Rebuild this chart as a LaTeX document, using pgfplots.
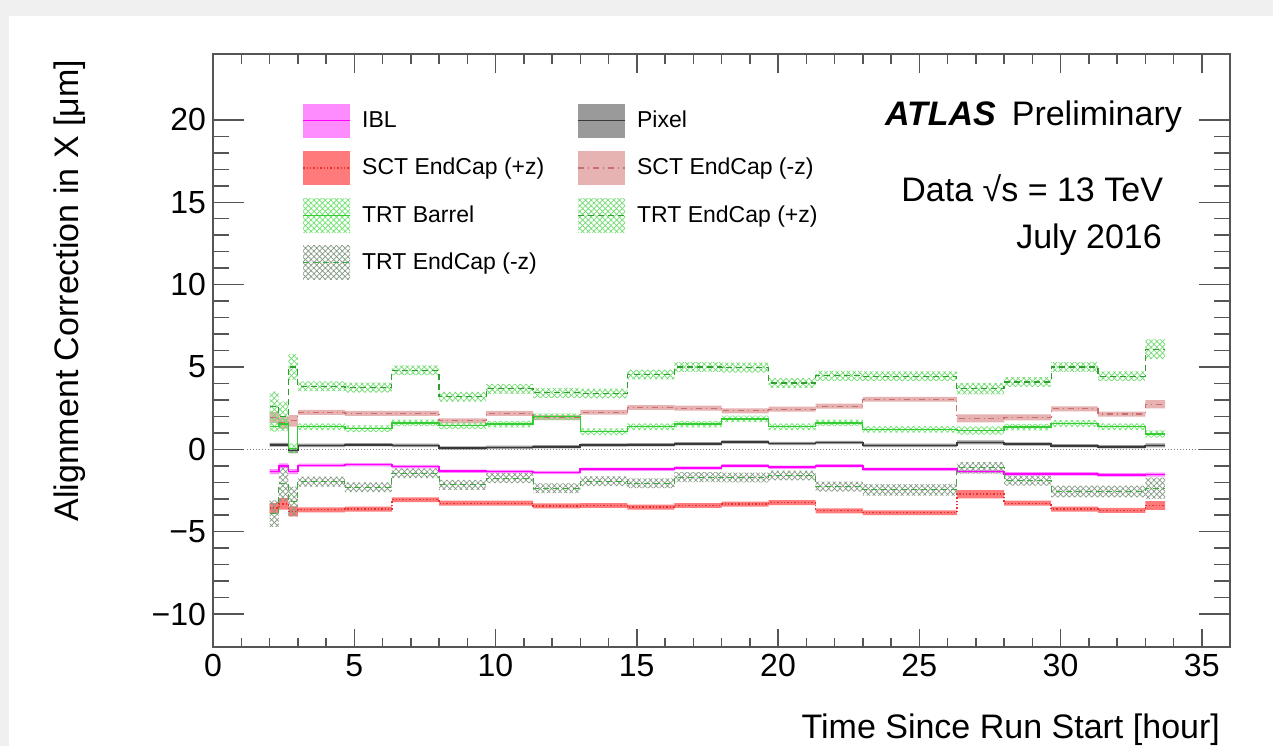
\documentclass[border=0pt]{standalone}
\usepackage{fontspec}
\setmainfont{Liberation Sans}
\usepackage{pgfplots}
\pgfplotsset{compat=1.18}
\usepackage{pgfplotstable}
\usepgfplotslibrary{fillbetween}
\usetikzlibrary{patterns,patterns.meta}

\pgfdeclarelayer{bg}
\pgfplotsset{
  layers/withbg/.define layer set={bg,axis background,axis grid,axis ticks,axis lines,axis tick labels,pre main,main,axis descriptions,axis foreground}{},
}

\definecolor{bggray}{HTML}{F0F0F0}
\definecolor{iblband}{HTML}{FF8CFF}
\definecolor{iblline}{HTML}{FF00FF}
\definecolor{pixband}{HTML}{9A9A9A}
\definecolor{pixline}{HTML}{3A3A3A}
\definecolor{scapband}{HTML}{FF7B7B}
\definecolor{scapline}{HTML}{E83030}
\definecolor{scamband}{HTML}{E6B2B2}
\definecolor{scamline}{HTML}{C87070}
\definecolor{trtbhatch}{HTML}{6AE46A}
\definecolor{trtbline}{HTML}{33CC33}
\definecolor{trtphatch}{HTML}{70DC70}
\definecolor{trtpline}{HTML}{2E9E2E}
\definecolor{trtmhatch}{HTML}{839A83}
\definecolor{trtmline}{HTML}{3DAA3D}
\definecolor{framecol}{HTML}{555555}

% x = bin start [hour], c = central value, e = half width of band
\pgfplotstableread{
x c e
2.00 -1.35 0.15
2.33 -1.00 0.15
2.67 -1.35 0.15
3.00 -0.97 0.10
4.67 -0.93 0.10
6.33 -1.05 0.10
8.00 -1.33 0.10
9.67 -1.35 0.10
11.33 -1.41 0.10
13.00 -1.21 0.10
14.67 -1.21 0.10
16.33 -1.13 0.10
18.00 -1.00 0.10
19.67 -1.09 0.10
21.33 -1.00 0.10
23.00 -1.21 0.10
26.33 -1.35 0.10
28.00 -1.49 0.10
29.67 -1.49 0.10
31.33 -1.55 0.10
33.00 -1.53 0.12
33.70 -1.53 0.12
}\tblIBL

\pgfplotstableread{
x c e
2.00 0.28 0.12
2.33 0.28 0.12
2.67 -0.08 0.15
3.00 0.24 0.10
4.67 0.28 0.10
6.33 0.24 0.10
8.00 0.08 0.10
9.67 0.12 0.10
11.33 0.16 0.10
13.00 0.26 0.10
14.67 0.28 0.10
16.33 0.34 0.10
18.00 0.44 0.10
19.67 0.36 0.10
21.33 0.42 0.10
23.00 0.24 0.10
26.33 0.42 0.12
28.00 0.32 0.10
29.67 0.22 0.10
31.33 0.16 0.10
33.00 0.24 0.12
33.70 0.24 0.12
}\tblPix

\pgfplotstableread{
x c e
2.00 -3.57 0.30
2.33 -3.31 0.35
2.67 -3.77 0.30
3.00 -3.67 0.15
4.67 -3.63 0.15
6.33 -3.06 0.15
8.00 -3.27 0.15
9.67 -3.27 0.15
11.33 -3.43 0.15
13.00 -3.41 0.15
14.67 -3.51 0.15
16.33 -3.41 0.15
18.00 -3.33 0.15
19.67 -3.23 0.15
21.33 -3.73 0.15
23.00 -3.85 0.15
26.33 -2.72 0.25
28.00 -3.27 0.15
29.67 -3.63 0.15
31.33 -3.71 0.15
33.00 -3.41 0.27
33.70 -3.41 0.27
}\tblSCTp

\pgfplotstableread{
x c e
2.00 1.94 0.33
2.33 1.60 0.35
2.67 1.73 0.35
3.00 2.24 0.15
4.67 2.18 0.15
6.33 2.18 0.15
8.00 1.73 0.15
9.67 2.18 0.15
11.33 1.92 0.15
13.00 2.25 0.15
14.67 2.54 0.15
16.33 2.50 0.15
18.00 2.34 0.15
19.67 2.44 0.15
21.33 2.62 0.15
23.00 3.04 0.15
26.33 1.88 0.25
28.00 1.94 0.18
29.67 2.46 0.15
31.33 2.14 0.15
33.00 2.74 0.25
33.70 2.74 0.25
}\tblSCTm

\pgfplotstableread{
x c e
2.00 1.37 0.30
2.33 1.53 0.30
2.67 0.06 0.30
3.00 1.37 0.20
4.67 1.25 0.20
6.33 1.61 0.20
8.00 1.43 0.20
9.67 1.53 0.20
11.33 1.98 0.20
13.00 1.07 0.20
14.67 1.37 0.20
16.33 1.53 0.20
18.00 1.85 0.20
19.67 1.37 0.20
21.33 1.61 0.20
23.00 1.21 0.20
26.33 1.15 0.25
28.00 1.35 0.20
29.67 1.57 0.20
31.33 1.37 0.20
33.00 0.93 0.22
33.70 0.93 0.22
}\tblTRTb

\pgfplotstableread{
x c e
2.00 2.60 0.90
2.33 2.00 0.90
2.67 5.00 0.80
3.00 3.83 0.30
4.67 3.75 0.30
6.33 4.80 0.30
8.00 3.19 0.30
9.67 3.67 0.30
11.33 3.43 0.30
13.00 3.39 0.30
14.67 4.54 0.30
16.33 5.00 0.30
18.00 4.96 0.30
19.67 4.03 0.30
21.33 4.46 0.30
23.00 4.44 0.30
26.33 3.69 0.35
28.00 4.09 0.30
29.67 5.00 0.30
31.33 4.44 0.30
33.00 6.07 0.60
33.70 6.07 0.60
}\tblTRTp

\pgfplotstableread{
x c e
2.00 -3.90 0.80
2.33 -2.06 1.10
2.67 -3.17 0.90
3.00 -1.96 0.30
4.67 -2.30 0.30
6.33 -1.45 0.30
8.00 -2.16 0.30
9.67 -1.75 0.30
11.33 -2.36 0.30
13.00 -1.94 0.30
14.67 -2.06 0.30
16.33 -1.69 0.30
18.00 -1.71 0.30
19.67 -1.59 0.30
21.33 -2.26 0.30
23.00 -2.46 0.35
26.33 -1.13 0.35
28.00 -1.90 0.30
29.67 -2.56 0.35
31.33 -2.56 0.35
33.00 -2.36 0.65
33.70 -2.36 0.65
}\tblTRTm

\begin{document}
\begin{tikzpicture}
\begin{axis}[
  set layers=withbg,
  scale only axis, width=508.5pt, height=296.5pt,
  xmin=0, xmax=36, ymin=-12, ymax=24,
  xtick={0,5,...,35}, ytick={-10,-5,...,20},
  yticklabels={−10,−5,0,5,10,15,20},
  minor x tick num=4, minor y tick num=4,
  tick align=inside, tick pos=both,
  ticklabel style={font=\fontsize{16}{18}\selectfont},
  /pgf/number format/assume math mode=true,
  axis line style={framecol, line width=0.75pt},
  every tick/.style={framecol, line width=0.75pt},
  major tick length=15.5pt, minor tick length=8pt,
  xtick style={/pgfplots/major tick length=9.25pt, /pgfplots/minor tick length=4.75pt},
  no markers,
  xlabel={Time Since Run Start [hour]},
  ylabel={Alignment Correction in X [μm]},
  xlabel style={at={(axis description cs:0.997,-0.155)}, anchor=base east, font=\fontsize{17}{20}\selectfont},
  ylabel style={at={(axis description cs:-0.1327,1.002)}, anchor=base east, font=\fontsize{17}{20}\selectfont},
  legend columns=2,
  legend cell align=left,
  legend style={at={(axis description cs:0.0875,0.9170)}, anchor=north west, draw=none, fill=none,
    font=\fontsize{11.5}{13}\selectfont, row sep=6.7pt, inner sep=0pt,
    /tikz/every even column/.append style={column sep=14.5pt}},
]
\begin{pgfonlayer}{bg}
\fill[bggray] (axis description cs:-0.20944,-0.16695) rectangle (axis description cs:1.04228,1.09106);
\fill[white] (axis description cs:-0.20059,-0.16695) rectangle (axis description cs:1.04228,1.06408);
\end{pgfonlayer}

\addplot[densely dotted, gray, line width=0.5pt, forget plot] coordinates {(1.2,0) (35,0)};

% IBL
\addplot[const plot, draw=none, forget plot, name path=ibllo] table[x=x, y expr=\thisrow{c}-\thisrow{e}]{\tblIBL};
\addplot[const plot, draw=none, forget plot, name path=iblhi] table[x=x, y expr=\thisrow{c}+\thisrow{e}]{\tblIBL};
\addplot[fill=iblband, draw=none, forget plot] fill between[of=ibllo and iblhi];
\addplot[const plot, iblline, line width=0.8pt, forget plot] table[x=x, y=c]{\tblIBL};

% Pixel
\addplot[const plot, draw=none, forget plot, name path=pixlo] table[x=x, y expr=\thisrow{c}-\thisrow{e}]{\tblPix};
\addplot[const plot, draw=none, forget plot, name path=pixhi] table[x=x, y expr=\thisrow{c}+\thisrow{e}]{\tblPix};
\addplot[fill=pixband, draw=none, forget plot] fill between[of=pixlo and pixhi];
\addplot[const plot, pixline, line width=0.8pt, forget plot] table[x=x, y=c]{\tblPix};

% SCT EndCap +z
\addplot[const plot, draw=none, forget plot, name path=scplo] table[x=x, y expr=\thisrow{c}-\thisrow{e}]{\tblSCTp};
\addplot[const plot, draw=none, forget plot, name path=scphi] table[x=x, y expr=\thisrow{c}+\thisrow{e}]{\tblSCTp};
\addplot[fill=scapband, draw=none, forget plot] fill between[of=scplo and scphi];
\addplot[const plot, scapline, densely dotted, line width=0.7pt, forget plot] table[x=x, y=c]{\tblSCTp};

% SCT EndCap -z
\addplot[const plot, draw=none, forget plot, name path=scmlo] table[x=x, y expr=\thisrow{c}-\thisrow{e}]{\tblSCTm};
\addplot[const plot, draw=none, forget plot, name path=scmhi] table[x=x, y expr=\thisrow{c}+\thisrow{e}]{\tblSCTm};
\addplot[fill=scamband, draw=none, forget plot] fill between[of=scmlo and scmhi];
\addplot[const plot, scamline, dash dot, line width=0.6pt, forget plot] table[x=x, y=c]{\tblSCTm};

% TRT Barrel
\addplot[const plot, draw=none, forget plot, name path=tblo] table[x=x, y expr=\thisrow{c}-\thisrow{e}]{\tblTRTb};
\addplot[const plot, draw=none, forget plot, name path=tbhi] table[x=x, y expr=\thisrow{c}+\thisrow{e}]{\tblTRTb};
\addplot[pattern={Hatch[angle=45,distance=2pt,line width=0.35pt]}, pattern color=trtbhatch, draw=none, forget plot] fill between[of=tblo and tbhi];
\addplot[const plot, trtbline, line width=0.7pt, forget plot] table[x=x, y=c]{\tblTRTb};

% TRT EndCap +z
\addplot[const plot, draw=none, forget plot, name path=tplo] table[x=x, y expr=\thisrow{c}-\thisrow{e}]{\tblTRTp};
\addplot[const plot, draw=none, forget plot, name path=tphi] table[x=x, y expr=\thisrow{c}+\thisrow{e}]{\tblTRTp};
\addplot[pattern={Hatch[angle=45,distance=2pt,line width=0.35pt]}, pattern color=trtphatch, draw=none, forget plot] fill between[of=tplo and tphi];
\addplot[const plot, trtpline, densely dashed, line width=0.6pt, forget plot] table[x=x, y=c]{\tblTRTp};

% TRT EndCap -z
\addplot[const plot, draw=none, forget plot, name path=tmlo] table[x=x, y expr=\thisrow{c}-\thisrow{e}]{\tblTRTm};
\addplot[const plot, draw=none, forget plot, name path=tmhi] table[x=x, y expr=\thisrow{c}+\thisrow{e}]{\tblTRTm};
\addplot[pattern={Hatch[angle=45,distance=2pt,line width=0.35pt]}, pattern color=trtmhatch, draw=none, forget plot] fill between[of=tmlo and tmhi];
\addplot[const plot, trtmline, densely dashed, line width=0.5pt, forget plot] table[x=x, y=c]{\tblTRTm};

% legend
\addlegendimage{legend image code/.code={\path[fill=iblband, draw=none] (0pt,-8.5pt) rectangle (23.5pt,8.5pt); \path[draw=iblline, line width=0.8pt] (0pt,0pt) -- (23.5pt,0pt); \path[draw=none, fill=none] (0pt,0pt) -- (27.5pt,0pt);}}
\addlegendentry{IBL}
\addlegendimage{legend image code/.code={\path[fill=pixband, draw=none] (0pt,-8.5pt) rectangle (23.5pt,8.5pt); \path[draw=pixline, line width=0.8pt] (0pt,0pt) -- (23.5pt,0pt); \path[draw=none, fill=none] (0pt,0pt) -- (27.5pt,0pt);}}
\addlegendentry{Pixel}
\addlegendimage{legend image code/.code={\path[fill=scapband, draw=none] (0pt,-8.5pt) rectangle (23.5pt,8.5pt); \path[draw=scapline, densely dotted, line width=0.7pt] (0pt,0pt) -- (23.5pt,0pt); \path[draw=none, fill=none] (0pt,0pt) -- (27.5pt,0pt);}}
\addlegendentry{SCT EndCap (+z)}
\addlegendimage{legend image code/.code={\path[fill=scamband, draw=none] (0pt,-8.5pt) rectangle (23.5pt,8.5pt); \path[draw=scamline, dash dot, line width=0.6pt] (0pt,0pt) -- (23.5pt,0pt); \path[draw=none, fill=none] (0pt,0pt) -- (27.5pt,0pt);}}
\addlegendentry{SCT EndCap (-z)}
\addlegendimage{legend image code/.code={\path[draw=none, pattern={Hatch[angle=45,distance=2pt,line width=0.35pt]}, pattern color=trtbhatch] (0pt,-8.5pt) rectangle (23.5pt,8.5pt); \path[draw=trtbline, line width=0.7pt] (0pt,0pt) -- (23.5pt,0pt); \path[draw=none, fill=none] (0pt,0pt) -- (27.5pt,0pt);}}
\addlegendentry{TRT Barrel}
\addlegendimage{legend image code/.code={\path[draw=none, pattern={Hatch[angle=45,distance=2pt,line width=0.35pt]}, pattern color=trtphatch] (0pt,-8.5pt) rectangle (23.5pt,8.5pt); \path[draw=trtpline, densely dashed, line width=0.6pt] (0pt,0pt) -- (23.5pt,0pt); \path[draw=none, fill=none] (0pt,0pt) -- (27.5pt,0pt);}}
\addlegendentry{TRT EndCap (+z)}
\addlegendimage{legend image code/.code={\path[draw=none, pattern={Hatch[angle=45,distance=2pt,line width=0.35pt]}, pattern color=trtmhatch] (0pt,-8.5pt) rectangle (23.5pt,8.5pt); \path[draw=trtmline, densely dashed, line width=0.5pt] (0pt,0pt) -- (23.5pt,0pt); \path[draw=none, fill=none] (0pt,0pt) -- (27.5pt,0pt);}}
\addlegendentry{TRT EndCap (-z)}

\node[anchor=base east, font=\fontsize{17}{20}\selectfont, inner sep=0pt] at (axis cs:34.31,19.63) {\textbf{\textit{ATLAS}}\hspace{8pt}Preliminary};
\node[anchor=base east, font=\fontsize{17}{20}\selectfont, inner sep=0pt] at (axis cs:33.64,15.03) {Data √s = 13 TeV};
\node[anchor=base east, font=\fontsize{17}{20}\selectfont, inner sep=0pt] at (axis cs:33.60,12.20) {July 2016};
\end{axis}
\pgfresetboundingbox
\useasboundingbox (-106.5pt,-49.5pt) rectangle (530pt,323.5pt);
\end{tikzpicture}
\end{document}
